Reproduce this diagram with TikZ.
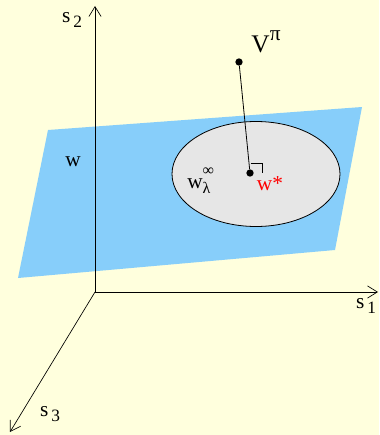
\documentclass[tikz,border=0pt]{standalone}
\usepackage{fontspec}
\setmainfont{Liberation Serif}
\usepackage{tikz}
\usetikzlibrary{arrows.meta}
\definecolor{paper}{RGB}{255,255,221}
\definecolor{planeblue}{RGB}{135,206,250}
\definecolor{ellgray}{RGB}{230,230,230}
\tikzset{
  axis/.style={-{Straight Barb[length=2.6mm,width=3.2mm]}, line width=0.5pt},
  plane/.style={fill=planeblue, draw=none},
  ell/.style={draw, fill=ellgray, line width=0.6pt},
  dot/.style={circle, fill=black, inner sep=0pt, minimum size=5.5pt},
  lbl/.style={font=\fontsize{16}{18}\selectfont, inner sep=0pt}
}
\newcommand{\lowsub}[1]{\raisebox{-0.55ex}{\fontsize{13}{14}\selectfont\,#1}}
\newcommand{\upsup}[1]{\raisebox{1.0ex}{\fontsize{16}{17}\selectfont #1}}

\begin{document}
\begin{tikzpicture}[x=0.75pt, y=-0.75pt]
  \fill[paper] (0,0) rectangle (379,435);
  \useasboundingbox (0,0) rectangle (379,435);
  % plane and the set
  \fill[plane] (48,130) -- (362,107) -- (335,250) -- (18,278) -- cycle;
  \draw[ell] (256,174) ellipse [x radius=84, y radius=52.5];
  % axes
  \coordinate (o) at (95,292);
  \coordinate (e1) at (378,292);
  \coordinate (e2) at (95,6);
  \coordinate (e3) at (10,432);
  \draw[axis] (o) -- (e1);
  \draw[axis] (o) -- (e2);
  \draw[axis] (o) -- (e3);
  \node[lbl] (s1) at (366,306) {s\lowsub{1}};
  \node[lbl] (s2) at (72,20) {s\lowsub{2}};
  \node[lbl] (s3) at (50,414) {s\lowsub{3}};
  % points
  \node[dot] (vpi) at (239,62) {};
  \node[dot] (wstar) at (250,173) {};
  \draw[line width=0.6pt] (vpi) -- (wstar);
  \draw[line width=0.5pt] (250.5,163) -- (262.5,163) -- (262.5,173);
  \node[lbl, font=\fontsize{19}{21}\selectfont] (vlbl) at (266,42) {V\upsup{π}};
  \node[lbl, text=red] (wlbl) at (270,184) {w*};
  \node[lbl, anchor=base west] (wlam) at (187,188) {w\rlap{\raisebox{1.25ex}{\fontsize{12}{13}\selectfont ∞}}\raisebox{-0.6ex}{\fontsize{12}{13}\selectfont λ}};
  \node[lbl] (wpl) at (73,162) {w};
\end{tikzpicture}
\end{document}
